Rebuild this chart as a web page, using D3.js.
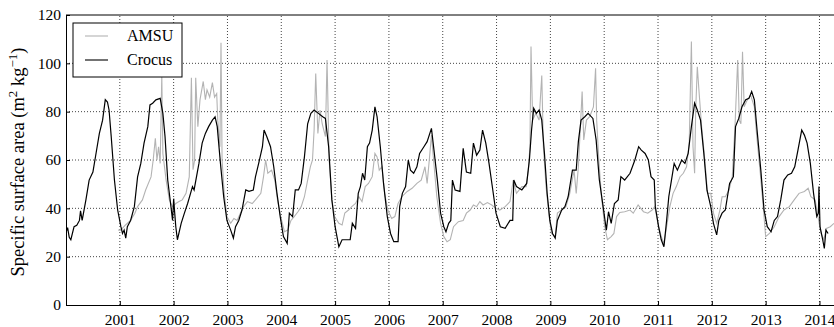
<!DOCTYPE html>
<html>
<head>
<meta charset="utf-8">
<script src="https://cdn.jsdelivr.net/npm/d3@7"></script>
</head>
<body style="margin:0">
<div id="chart"></div>
<script>
// [decimal year, SSA]
const amsu = [
  [2000.97, 31], [2001.02, 31], [2001.1, 33], [2001.2, 35], [2001.28, 38], [2001.33, 40.7], [2001.42, 43.5],
  [2001.48, 47.6], [2001.58, 53], [2001.62, 60], [2001.66, 69], [2001.69, 60], [2001.72, 65.5], [2001.75, 58.6],
  [2001.78, 95], [2001.8, 62.7], [2001.86, 51.7], [2001.92, 43.5], [2001.98, 40.7], [2002.04, 42], [2002.1, 42.8],
  [2002.16, 43.5], [2002.23, 46.2], [2002.29, 53], [2002.33, 94], [2002.36, 56], [2002.39, 60], [2002.41, 94],
  [2002.45, 73.8], [2002.49, 85], [2002.55, 92.5], [2002.59, 85], [2002.62, 89], [2002.67, 86], [2002.72, 92],
  [2002.76, 86], [2002.8, 87.5], [2002.82, 76.5], [2002.86, 65.5], [2002.88, 108.5], [2002.9, 60], [2002.94, 46.2],
  [2002.99, 36.6], [2003.06, 33.8], [2003.12, 35.8], [2003.18, 35], [2003.24, 38], [2003.3, 40.7], [2003.37, 42.8],
  [2003.46, 42], [2003.52, 43.5], [2003.62, 46.2], [2003.67, 53.1], [2003.71, 60], [2003.75, 54.5], [2003.82, 55.8],
  [2003.88, 51.7], [2003.93, 43.5], [2003.99, 36.6], [2004.06, 30.3], [2004.12, 31], [2004.18, 35], [2004.24, 36.6],
  [2004.31, 38.6], [2004.37, 40.7], [2004.43, 44.8], [2004.49, 51.7], [2004.54, 57.2], [2004.58, 60], [2004.61, 72.4],
  [2004.64, 95.8], [2004.68, 71], [2004.72, 80.7], [2004.76, 75], [2004.82, 69.7], [2004.85, 101.4], [2004.89, 60],
  [2004.94, 43.5], [2004.99, 36.6], [2005.07, 33.8], [2005.13, 33.1], [2005.18, 38], [2005.25, 39.3], [2005.31, 40.7],
  [2005.38, 42], [2005.44, 44.8], [2005.5, 42.8], [2005.56, 49], [2005.62, 50.3], [2005.69, 53.1], [2005.74, 62.7],
  [2005.78, 61.3], [2005.82, 55.8], [2005.87, 57.2], [2005.92, 46.2], [2005.98, 39.3], [2006.05, 35.8], [2006.11, 36.6],
  [2006.17, 42], [2006.24, 44.8], [2006.34, 47], [2006.43, 48.3], [2006.52, 50.3], [2006.6, 51.7], [2006.67, 57.2],
  [2006.71, 50.3], [2006.75, 60], [2006.79, 70.3], [2006.83, 60], [2006.89, 44.8], [2006.96, 33.8], [2007.02, 28.3],
  [2007.08, 26.2], [2007.14, 27], [2007.2, 32.4], [2007.29, 34.5], [2007.38, 35], [2007.44, 38], [2007.51, 39.3],
  [2007.57, 41.4], [2007.63, 40.7], [2007.69, 42.8], [2007.75, 41.4], [2007.83, 42.4], [2007.91, 41.4], [2007.99, 40],
  [2008.06, 39.3], [2008.16, 40.7], [2008.25, 42.8], [2008.31, 51.7], [2008.37, 46.2], [2008.47, 49], [2008.55, 49],
  [2008.59, 55.8], [2008.62, 65.5], [2008.64, 107], [2008.67, 76.5], [2008.73, 79.3], [2008.79, 76.5], [2008.84, 95],
  [2008.87, 65.5], [2008.92, 49], [2008.97, 38], [2009.02, 29.6], [2009.09, 28.3], [2009.13, 38], [2009.21, 39.3],
  [2009.29, 40.7], [2009.36, 46.2], [2009.44, 55.8], [2009.48, 46.2], [2009.52, 57.2], [2009.59, 88.3], [2009.62, 68.3],
  [2009.67, 76.5], [2009.73, 77.9], [2009.8, 82], [2009.84, 98], [2009.86, 76.5], [2009.9, 60], [2009.95, 44.8],
  [2010.01, 32.4], [2010.06, 27], [2010.13, 28.3], [2010.18, 29.6], [2010.23, 36.6], [2010.29, 38.3], [2010.38, 38.6],
  [2010.48, 39.3], [2010.54, 38], [2010.63, 41.4], [2010.73, 38.6], [2010.81, 38], [2010.89, 39.3], [2010.94, 40.7],
  [2011.0, 33.8], [2011.06, 28.3], [2011.11, 25.5], [2011.16, 32.4], [2011.22, 40.7], [2011.28, 46.2], [2011.34, 49],
  [2011.41, 53.1], [2011.47, 54.5], [2011.53, 57.2], [2011.58, 67], [2011.62, 109], [2011.65, 65.5], [2011.68, 54.5],
  [2011.7, 80.7], [2011.73, 98.6], [2011.76, 89], [2011.81, 73.8], [2011.87, 60], [2011.92, 46.2], [2011.98, 46.2],
  [2012.03, 38], [2012.09, 33.8], [2012.15, 39.3], [2012.19, 44.8], [2012.25, 44.8], [2012.32, 47.6], [2012.38, 53.1],
  [2012.43, 73.8], [2012.48, 101.4], [2012.51, 76.5], [2012.54, 75], [2012.57, 104.8], [2012.6, 82], [2012.66, 84.9],
  [2012.72, 86.9], [2012.79, 82], [2012.83, 71], [2012.9, 54.5], [2012.96, 39.3], [2013.0, 28.3], [2013.07, 29.6],
  [2013.16, 32.4], [2013.25, 36.6], [2013.34, 39.3], [2013.44, 40.7], [2013.53, 43.5], [2013.62, 46.2], [2013.72, 47],
  [2013.79, 48.3], [2013.84, 44.8], [2013.92, 43.5], [2013.96, 38], [2014.03, 29.6], [2014.08, 27], [2014.13, 31.7],
  [2014.2, 32.4], [2014.27, 33.8]
];

const crocus = [
  [2000.0, 30], [2000.03, 32], [2000.06, 28], [2000.09, 27], [2000.15, 32.4], [2000.2, 33], [2000.25, 35], [2000.27, 39],
  [2000.3, 35], [2000.37, 43.5], [2000.43, 51.7], [2000.5, 55], [2000.56, 63], [2000.62, 71], [2000.68, 76.5],
  [2000.73, 85], [2000.77, 84], [2000.8, 80.7], [2000.84, 69.7], [2000.9, 51.7], [2000.96, 39.3], [2001.02, 32.4],
  [2001.05, 29.6], [2001.08, 31], [2001.11, 27.7], [2001.14, 32.4], [2001.2, 35], [2001.27, 40.7], [2001.33, 53],
  [2001.39, 58.6], [2001.45, 67], [2001.52, 73.8], [2001.56, 82.8], [2001.61, 83.5], [2001.67, 84.9], [2001.75, 85.5],
  [2001.8, 79.3], [2001.84, 69.7], [2001.89, 51.7], [2001.95, 40.7], [2001.98, 35], [2002.0, 44], [2002.02, 38],
  [2002.04, 32.4], [2002.07, 27], [2002.14, 33.8], [2002.2, 38], [2002.26, 42], [2002.35, 49], [2002.38, 47.6],
  [2002.47, 58.6], [2002.53, 67], [2002.59, 71], [2002.65, 73.8], [2002.72, 76.5], [2002.77, 77.9], [2002.81, 73.8],
  [2002.87, 58.6], [2002.93, 44.8], [2002.99, 35], [2003.06, 31], [2003.11, 27.7], [2003.15, 32.4], [2003.21, 35],
  [2003.27, 39.3], [2003.34, 47.6], [2003.4, 47], [2003.48, 47.6], [2003.52, 53], [2003.58, 58.6], [2003.65, 65.5],
  [2003.68, 72.4], [2003.73, 69.7], [2003.8, 65.5], [2003.86, 57.2], [2003.92, 46.2], [2003.98, 36.6], [2004.04, 28.3],
  [2004.11, 25.5], [2004.15, 38], [2004.21, 36.6], [2004.26, 47.6], [2004.32, 47.6], [2004.37, 50.3], [2004.43, 61.3],
  [2004.49, 75], [2004.55, 79.3], [2004.61, 80.7], [2004.69, 79.3], [2004.77, 77.9], [2004.82, 77.2], [2004.88, 65.5],
  [2004.94, 43.5], [2005.0, 32.4], [2005.07, 24.1], [2005.13, 27], [2005.28, 27], [2005.32, 33.8], [2005.38, 31.7],
  [2005.43, 46.2], [2005.47, 49], [2005.51, 54.5], [2005.55, 51.7], [2005.6, 65.5], [2005.64, 67], [2005.69, 72.4],
  [2005.74, 82], [2005.78, 77.9], [2005.84, 65.5], [2005.9, 50.3], [2005.97, 36.6], [2006.03, 29.6], [2006.09, 26.2],
  [2006.17, 26.2], [2006.2, 40.7], [2006.25, 46.2], [2006.31, 49], [2006.36, 60], [2006.4, 55.8], [2006.46, 54.5],
  [2006.52, 57.2], [2006.57, 62.7], [2006.65, 65.5], [2006.71, 67.6], [2006.79, 73.1], [2006.83, 65.5], [2006.9, 51.7],
  [2006.96, 38], [2007.02, 32.4], [2007.06, 30.3], [2007.11, 33.8], [2007.15, 35], [2007.18, 51.7], [2007.23, 47.6],
  [2007.32, 47], [2007.38, 64.8], [2007.44, 55], [2007.52, 54.5], [2007.57, 67], [2007.63, 62], [2007.69, 64.1],
  [2007.74, 72.4], [2007.8, 67], [2007.86, 58.6], [2007.93, 47.6], [2007.99, 38], [2008.07, 32.4], [2008.16, 31.7],
  [2008.25, 35], [2008.3, 35], [2008.32, 51.7], [2008.37, 49], [2008.47, 47.6], [2008.56, 50.3], [2008.61, 60],
  [2008.65, 72.4], [2008.69, 81.4], [2008.74, 79.3], [2008.79, 80.7], [2008.84, 76.5], [2008.89, 62.7], [2008.94, 46.2],
  [2008.99, 35], [2009.04, 29.6], [2009.09, 27.7], [2009.13, 35], [2009.21, 39.3], [2009.27, 40.7], [2009.33, 44.8],
  [2009.41, 55.8], [2009.48, 55.8], [2009.52, 67.6], [2009.57, 76.5], [2009.64, 77.9], [2009.7, 79.3], [2009.79, 77.2],
  [2009.85, 68.3], [2009.91, 51.7], [2009.98, 40.7], [2010.04, 31], [2010.08, 38.6], [2010.13, 33.8], [2010.19, 42],
  [2010.26, 43.5], [2010.31, 53.1], [2010.38, 51.7], [2010.48, 54.5], [2010.57, 60], [2010.64, 65.5], [2010.69, 64.1],
  [2010.76, 62.7], [2010.82, 60], [2010.87, 53.1], [2010.93, 51.7], [2010.95, 40.7], [2011.01, 32.4], [2011.06, 27],
  [2011.11, 24.1], [2011.16, 35], [2011.2, 44.8], [2011.25, 51.7], [2011.3, 58.6], [2011.36, 55.8], [2011.44, 60],
  [2011.5, 58.6], [2011.56, 62.7], [2011.62, 73.8], [2011.68, 83.5], [2011.73, 80.7], [2011.79, 76.5], [2011.85, 63],
  [2011.91, 47.5], [2011.98, 40.7], [2012.03, 33.8], [2012.09, 29], [2012.13, 35], [2012.19, 38], [2012.25, 39.3],
  [2012.33, 50.3], [2012.4, 53.1], [2012.44, 73.8], [2012.5, 77.2], [2012.56, 82], [2012.63, 84.9], [2012.69, 85.5],
  [2012.74, 88.3], [2012.79, 84.9], [2012.84, 72.4], [2012.91, 55.8], [2012.97, 39.3], [2013.03, 32.4], [2013.1, 30.3],
  [2013.16, 35], [2013.22, 36.6], [2013.28, 43.5], [2013.34, 51.7], [2013.41, 53.8], [2013.48, 54.5], [2013.54, 57.2],
  [2013.6, 64.1], [2013.67, 72.4], [2013.72, 70.3], [2013.77, 67], [2013.83, 58.6], [2013.89, 46.2], [2013.95, 36.6],
  [2013.98, 38], [2013.99, 49], [2014.01, 32.4], [2014.06, 27], [2014.09, 23.4], [2014.12, 31], [2014.16, 29.6]
];

const yearTicks = d3.range(2001, 2015);
const ssaTicks = [0, 20, 40, 60, 80, 100, 120];

const serif = 'Liberation Serif';
const width = 834;
const height = 327;
const margin = { top: 15, right: -6, bottom: 22, left: 66 };

const svg = d3.select('#chart')
  .append('svg')
  .attr('width', width)
  .attr('height', height)
  .attr('font-family', serif);

const x = d3.scaleLinear()
  .domain([2000, 2000 + (width - margin.right - margin.left) / 53.82])
  .range([margin.left, width - margin.right]);

const y = d3.scaleLinear()
  .domain([0, 120])
  .range([height - margin.bottom, margin.top]);

svg.append('clipPath').attr('id', 'plot')
  .append('rect')
  .attr('x', margin.left).attr('y', margin.top)
  .attr('width', x.range()[1] - margin.left)
  .attr('height', y(0) - margin.top);

// dotted grid
svg.append('g')
  .selectAll('line')
  .data(yearTicks)
  .enter().append('line')
  .attr('x1', d => x(d)).attr('x2', d => x(d))
  .attr('y1', y(0)).attr('y2', y(120))
  .attr('stroke', '#444').attr('stroke-width', 1).attr('stroke-dasharray', '1,2');

svg.append('g')
  .selectAll('line')
  .data(ssaTicks.slice(1, -1))
  .enter().append('line')
  .attr('x1', margin.left).attr('x2', x.range()[1])
  .attr('y1', d => y(d)).attr('y2', d => y(d))
  .attr('stroke', '#444').attr('stroke-width', 1).attr('stroke-dasharray', '1,2');

const line = d3.line()
  .x(d => x(d[0]))
  .y(d => y(d[1]));

const lines = svg.append('g').attr('clip-path', 'url(#plot)');

lines.append('path')
  .datum(amsu)
  .attr('d', line)
  .attr('fill', 'none')
  .attr('stroke', '#b3b3b3')
  .attr('stroke-width', 1.1);

lines.append('path')
  .datum(crocus)
  .attr('d', line)
  .attr('fill', 'none')
  .attr('stroke', '#000')
  .attr('stroke-width', 1.2);

// axes, ticks pointing inward like the classic matplotlib look
const xAxis = svg.append('g')
  .attr('transform', `translate(0,${y(0)})`)
  .call(d3.axisBottom(x).tickValues(yearTicks).tickFormat(d3.format('d')).tickSizeInner(-4).tickSizeOuter(0).tickPadding(9));

const yAxis = svg.append('g')
  .attr('transform', `translate(${margin.left},0)`)
  .call(d3.axisLeft(y).tickValues(ssaTicks).tickSizeInner(-4).tickSizeOuter(0).tickPadding(5));

svg.append('line')
  .attr('x1', margin.left).attr('x2', x.range()[1])
  .attr('y1', y(120)).attr('y2', y(120))
  .attr('stroke', '#000');

[xAxis, yAxis].forEach(g => {
  g.attr('font-family', serif).attr('font-size', 15.5);
  g.selectAll('text').attr('fill', '#000');
  g.selectAll('line').attr('stroke', '#000');
  g.select('.domain').attr('stroke', '#000');
});

// y label
const ylab = svg.append('text')
  .attr('transform', `translate(24,${(y(0) + y(120)) / 2 + 2}) rotate(-90)`)
  .attr('text-anchor', 'middle')
  .attr('font-family', serif)
  .attr('font-size', 18.5);
ylab.append('tspan').text('Specific surface area (m');
ylab.append('tspan').attr('dy', -7).attr('font-size', 13).text('2');
ylab.append('tspan').attr('dy', 7).text(' kg');
ylab.append('tspan').attr('dy', -7).attr('font-size', 13).text('\u22121');
ylab.append('tspan').attr('dy', 7).text(')');

// legend
const legend = svg.append('g').attr('transform', 'translate(73,23)');
legend.append('rect')
  .attr('width', 109).attr('height', 54)
  .attr('fill', '#fff').attr('stroke', '#000');

const entries = [{ name: 'AMSU', color: '#b3b3b3' }, { name: 'Crocus', color: '#000' }];
entries.forEach((e, i) => {
  legend.append('line')
    .attr('x1', 12).attr('x2', 35)
    .attr('y1', 13 + i * 24).attr('y2', 13 + i * 24)
    .attr('stroke', e.color).attr('stroke-width', 1.1);
  legend.append('text')
    .attr('x', 54).attr('y', 18 + i * 24)
    .attr('font-family', serif)
    .attr('font-size', 16)
    .text(e.name);
});
</script>
</body>
</html>
